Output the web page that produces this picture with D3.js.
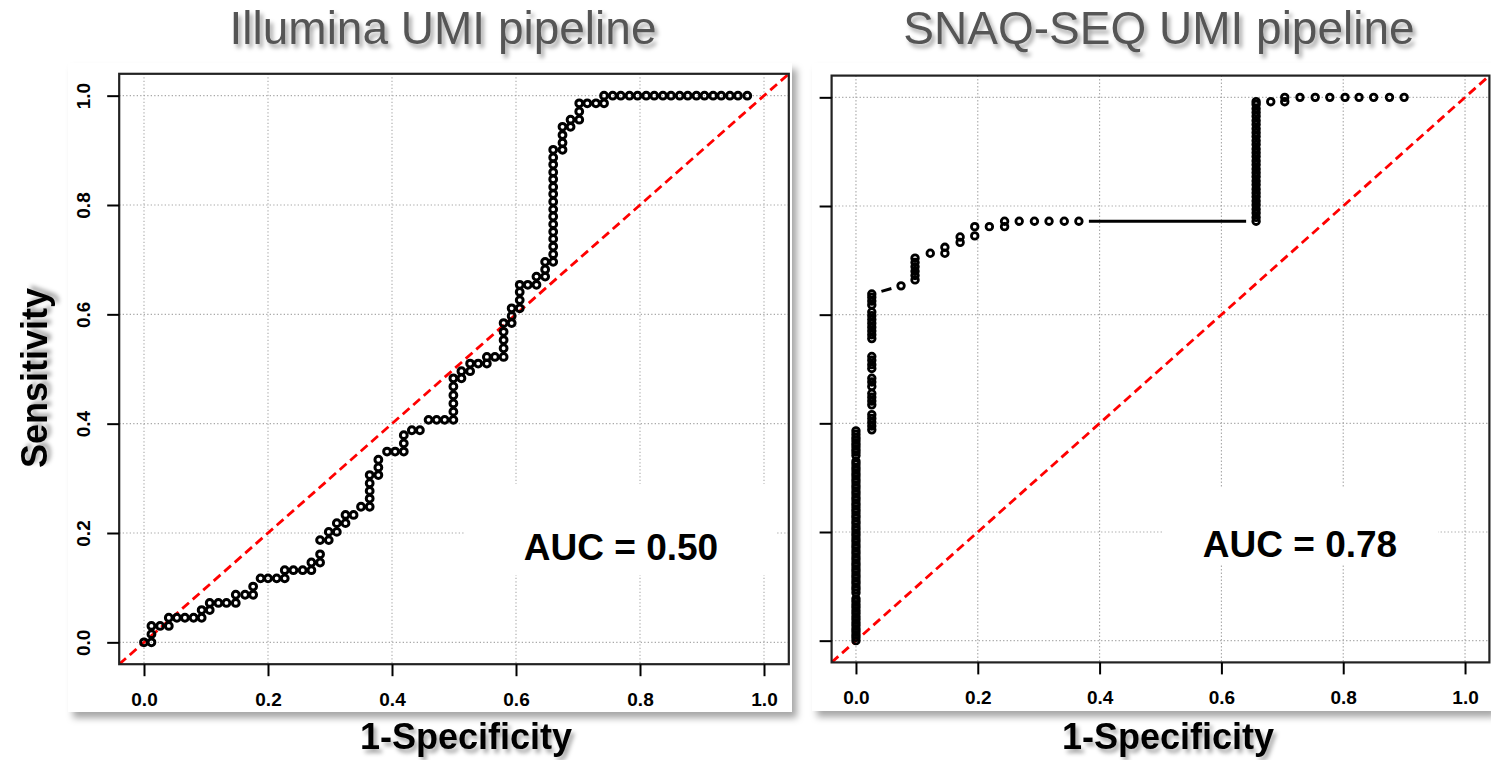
<!doctype html>
<html>
<head>
<meta charset="utf-8">
<script src="https://cdn.jsdelivr.net/npm/d3@7"></script>
<style>
  html, body { margin: 0; padding: 0; background: #fff; }
  svg { display: block; font-family: "Liberation Sans", Arial, sans-serif; }
</style>
</head>
<body>
<svg id="chart" width="1491" height="760"></svg>
<script>
// ---- data ----
var titles = ["Illumina UMI pipeline", "SNAQ-SEQ UMI pipeline"];
var aucLabels = ["AUC = 0.50", "AUC = 0.78"];
var tickValues = [0, 0.2, 0.4, 0.6, 0.8, 1.0];
var tickLabels = ["0.0", "0.2", "0.4", "0.6", "0.8", "1.0"];

// [1-specificity, sensitivity]
var illumina = [
  [0,0],[0.012,0],[0.012,0.015],[0.012,0.030],[0.026,0.030],[0.040,0.030],[0.040,0.045],
  [0.053,0.045],[0.066,0.045],[0.080,0.045],[0.093,0.045],[0.093,0.059],[0.106,0.059],[0.106,0.072],
  [0.120,0.072],[0.133,0.072],[0.148,0.072],[0.148,0.087],[0.163,0.087],[0.176,0.087],[0.176,0.102],
  [0.188,0.117],[0.200,0.117],[0.214,0.117],[0.227,0.117],[0.227,0.132],[0.241,0.132],[0.256,0.132],
  [0.270,0.132],[0.270,0.146],[0.284,0.146],[0.284,0.161],[0.284,0.187],[0.298,0.187],[0.298,0.202],
  [0.311,0.202],[0.311,0.218],[0.325,0.218],[0.325,0.233],[0.338,0.233],[0.350,0.248],[0.364,0.248],
  [0.364,0.263],[0.364,0.277],[0.364,0.291],[0.364,0.306],[0.378,0.306],[0.378,0.320],[0.378,0.334],
  [0.392,0.349],[0.405,0.349],[0.419,0.349],[0.419,0.364],[0.419,0.379],[0.432,0.388],[0.445,0.388],
  [0.459,0.407],[0.472,0.407],[0.485,0.407],[0.499,0.407],[0.499,0.422],[0.499,0.437],[0.499,0.452],
  [0.499,0.468],[0.499,0.483],[0.512,0.483],[0.512,0.496],[0.526,0.496],[0.526,0.510],[0.539,0.510],
  [0.553,0.510],[0.553,0.522],[0.566,0.522],[0.580,0.522],[0.580,0.538],[0.580,0.553],[0.580,0.568],
  [0.580,0.584],[0.593,0.584],[0.593,0.597],[0.593,0.611],[0.606,0.611],[0.606,0.626],[0.606,0.641],
  [0.606,0.654],[0.619,0.654],[0.633,0.654],[0.633,0.669],[0.647,0.669],[0.647,0.682],[0.647,0.696],
  [0.660,0.696],[0.660,0.710],[0.660,0.724],[0.660,0.738],[0.660,0.751],[0.660,0.765],[0.660,0.779],
  [0.660,0.792],[0.660,0.806],[0.660,0.820],[0.660,0.833],[0.660,0.847],[0.660,0.860],[0.660,0.874],
  [0.660,0.887],[0.660,0.901],[0.675,0.901],[0.675,0.914],[0.675,0.928],[0.675,0.943],[0.688,0.943],
  [0.688,0.956],[0.702,0.956],[0.702,0.971],[0.702,0.986],[0.715,0.986],[0.729,0.986],[0.742,0.986],
  [0.742,1],[0.756,1],[0.769,1],[0.783,1],[0.796,1],[0.810,1],[0.823,1],[0.837,1],[0.850,1],
  [0.864,1],[0.877,1],[0.891,1],[0.904,1],[0.918,1],[0.931,1],[0.945,1],[0.958,1],[0.973,1]
];

var snaq = [
  [0,0],[0,0.006],[0,0.011],[0,0.017],[0,0.022],[0,0.028],[0,0.033],[0,0.039],[0,0.044],[0,0.050],
  [0,0.055],[0,0.061],[0,0.066],[0,0.072],[0,0.077],[0,0.088],[0,0.094],[0,0.099],[0,0.105],[0,0.110],
  [0,0.116],[0,0.121],[0,0.127],[0,0.132],[0,0.138],[0,0.143],[0,0.149],[0,0.154],[0,0.160],[0,0.165],
  [0,0.171],[0,0.176],[0,0.182],[0,0.187],[0,0.193],[0,0.198],[0,0.204],[0,0.209],[0,0.215],[0,0.220],
  [0,0.226],[0,0.231],[0,0.237],[0,0.242],[0,0.248],[0,0.253],[0,0.259],[0,0.264],[0,0.270],[0,0.275],
  [0,0.281],[0,0.286],[0,0.292],[0,0.297],[0,0.303],[0,0.308],[0,0.314],[0,0.319],[0,0.325],[0,0.330],
  [0,0.341],[0,0.347],[0,0.352],[0,0.358],[0,0.363],[0,0.369],[0,0.374],[0,0.380],[0,0.386],
  [0.026,0.388],[0.026,0.395],[0.026,0.402],[0.026,0.409],[0.026,0.416],[0.026,0.434],[0.026,0.441],
  [0.026,0.448],[0.026,0.455],[0.026,0.468],[0.026,0.476],[0.026,0.483],[0.026,0.501],[0.026,0.508],
  [0.026,0.516],[0.026,0.523],[0.026,0.556],[0.026,0.563],[0.026,0.570],[0.026,0.577],[0.026,0.584],
  [0.026,0.591],[0.026,0.598],[0.026,0.605],[0.026,0.618],[0.026,0.625],[0.026,0.632],[0.026,0.638],
  [0.074,0.653],[0.097,0.664],[0.097,0.672],[0.097,0.680],[0.097,0.688],[0.097,0.696],[0.097,0.704],
  [0.122,0.713],[0.146,0.713],[0.146,0.724],[0.171,0.733],[0.171,0.743],[0.195,0.745],[0.195,0.762],
  [0.219,0.762],[0.244,0.762],[0.244,0.772],[0.268,0.772],[0.293,0.772],[0.317,0.772],[0.342,0.772],
  [0.366,0.772],[0.657,0.772],[0.657,0.779],[0.657,0.787],[0.657,0.794],[0.657,0.802],[0.657,0.809],
  [0.657,0.817],[0.657,0.824],[0.657,0.831],[0.657,0.839],[0.657,0.846],[0.657,0.854],[0.657,0.861],
  [0.657,0.868],[0.657,0.876],[0.657,0.883],[0.657,0.891],[0.657,0.898],[0.657,0.905],[0.657,0.913],
  [0.657,0.920],[0.657,0.928],[0.657,0.935],[0.657,0.942],[0.657,0.950],[0.657,0.957],[0.657,0.965],
  [0.657,0.972],[0.657,0.979],[0.657,0.987],[0.657,0.992],[0.681,0.992],[0.704,0.992],[0.704,1],
  [0.729,1],[0.754,1],[0.778,1],[0.803,1],[0.826,1],[0.850,1],[0.876,1],[0.900,1]
];

// ---- layout ----
var panels = [
  { data: illumina, title: titles[0], auc: aucLabels[0], titleX: 443,
    box: [119.2, 788.8, 73.8, 664.2], bg: [68, 63, 724, 649],
    legend: [465, 484, 312, 91], aucX: 621, aucY: 560, yLabels: true, xLabX: 466,
    r: 3.4, sw: 3.0 },
  { data: snaq, title: titles[1], auc: aucLabels[1], titleX: 1159,
    box: [831.6, 1489.4, 75.6, 662.4], bg: [812, 63, 679, 648],
    legend: [1164, 488, 274, 77], aucX: 1300, aucY: 557, yLabels: false, xLabX: 1168,
    r: 3.3, sw: 2.8 }
];

var svg = d3.select("#chart");
var defs = svg.append("defs");

var ts = defs.append("filter").attr("id", "tshadow")
  .attr("x", "-10%").attr("y", "-30%").attr("width", "130%").attr("height", "170%");
ts.append("feDropShadow").attr("dx", 3).attr("dy", 4).attr("stdDeviation", 2.2)
  .attr("flood-color", "#000").attr("flood-opacity", 0.35);

var ps = defs.append("filter").attr("id", "pshadow")
  .attr("x", "-5%").attr("y", "-5%").attr("width", "115%").attr("height", "115%");
ps.append("feDropShadow").attr("dx", 5).attr("dy", 6).attr("stdDeviation", 3.5)
  .attr("flood-color", "#000").attr("flood-opacity", 0.35);

panels.forEach(function(p, pi) {
  var x = d3.scaleLinear().domain([-0.04, 1.04]).range([p.box[0], p.box[1]]);
  var y = d3.scaleLinear().domain([-0.04, 1.04]).range([p.box[3], p.box[2]]);

  // white sheet with shadow
  svg.append("rect")
     .attr("x", p.bg[0]).attr("y", p.bg[1])
     .attr("width", p.bg[2]).attr("height", p.bg[3])
     .style("fill", "#fff")
     .attr("filter", "url(#pshadow)");

  var clipId = "clip" + pi;
  defs.append("clipPath").attr("id", clipId).append("rect")
      .attr("x", p.box[0]).attr("y", p.box[2])
      .attr("width", p.box[1] - p.box[0]).attr("height", p.box[3] - p.box[2]);

  var g = svg.append("g");
  var plot = g.append("g").attr("clip-path", "url(#" + clipId + ")");

  // grid
  plot.selectAll(".vgrid").data(tickValues).enter().append("line")
      .attr("x1", d => x(d)).attr("x2", d => x(d))
      .attr("y1", p.box[2]).attr("y2", p.box[3])
      .style("stroke", "#a8a8a8").style("stroke-width", 1.1)
      .style("stroke-dasharray", "1.3,2.2");
  plot.selectAll(".hgrid").data(tickValues).enter().append("line")
      .attr("y1", d => y(d)).attr("y2", d => y(d))
      .attr("x1", p.box[0]).attr("x2", p.box[1])
      .style("stroke", "#a8a8a8").style("stroke-width", 1.1)
      .style("stroke-dasharray", "1.3,2.2");

  // chance line
  plot.append("line")
      .attr("x1", x(-0.04)).attr("y1", y(-0.04))
      .attr("x2", x(1.04)).attr("y2", y(1.04))
      .style("stroke", "#ff0000").style("stroke-width", 2.8)
      .style("stroke-dasharray", "9,5");

  // type="b": segments with a gap around each point
  var pts = p.data.map(d => [x(d[0]), y(d[1])]);
  var gap = 10, segs = [];
  for (var i = 1; i < pts.length; i++) {
    var a = pts[i - 1], b = pts[i];
    var dx = b[0] - a[0], dy = b[1] - a[1], len = Math.sqrt(dx * dx + dy * dy);
    if (len > 2 * gap) {
      segs.push([a[0] + dx / len * gap, a[1] + dy / len * gap,
                 b[0] - dx / len * gap, b[1] - dy / len * gap]);
    }
  }
  plot.selectAll(".seg").data(segs).enter().append("line")
      .attr("x1", d => d[0]).attr("y1", d => d[1])
      .attr("x2", d => d[2]).attr("y2", d => d[3])
      .style("stroke", "#000").style("stroke-width", 3);

  plot.selectAll(".pt").data(p.data).enter().append("circle")
      .attr("cx", d => x(d[0])).attr("cy", d => y(d[1]))
      .attr("r", p.r)
      .style("fill", "none").style("stroke", "#000").style("stroke-width", p.sw);

  // legend
  g.append("rect")
   .attr("x", p.legend[0]).attr("y", p.legend[1])
   .attr("width", p.legend[2]).attr("height", p.legend[3])
   .style("fill", "#fff");
  g.append("text")
   .attr("x", p.aucX).attr("y", p.aucY)
   .attr("text-anchor", "middle")
   .style("font-size", "37px").style("font-weight", "bold")
   .text(p.auc);

  // box
  g.append("rect")
   .attr("x", p.box[0]).attr("y", p.box[2])
   .attr("width", p.box[1] - p.box[0]).attr("height", p.box[3] - p.box[2])
   .style("fill", "none").style("stroke", "#222").style("stroke-width", 2.2);

  // axes
  var xa = g.append("g").attr("transform", "translate(0," + p.box[3] + ")")
    .call(d3.axisBottom(x).tickValues(tickValues).tickSize(12).tickPadding(16)
            .tickFormat((d, i) => tickLabels[i]));
  xa.select(".domain").remove();
  xa.selectAll("line").style("stroke", "#000").style("stroke-width", 2);
  xa.selectAll("text").style("font-size", "19px").style("font-weight", "bold")
    .style("font-family", "Liberation Sans, Arial, sans-serif").style("fill", "#000");

  var ya = g.append("g").attr("transform", "translate(" + p.box[0] + ",0)")
    .call(d3.axisLeft(y).tickValues(tickValues).tickSize(12)
            .tickFormat((d, i) => p.yLabels ? tickLabels[i] : ""));
  ya.select(".domain").remove();
  ya.selectAll("line").style("stroke", "#000").style("stroke-width", 2);
  ya.selectAll("text")
    .attr("x", 0).attr("dy", 0).attr("text-anchor", "middle")
    .attr("transform", "translate(-29,0) rotate(-90)")
    .style("font-size", "19px").style("font-weight", "bold")
    .style("font-family", "Liberation Sans, Arial, sans-serif").style("fill", "#000");

  // titles and axis title
  svg.append("text")
     .attr("x", p.titleX).attr("y", 44)
     .attr("text-anchor", "middle")
     .attr("filter", "url(#tshadow)")
     .style("font-size", "46px").style("fill", "#555")
     .text(p.title);

  svg.append("text")
     .attr("x", p.xLabX).attr("y", 749)
     .attr("text-anchor", "middle")
     .attr("filter", "url(#tshadow)")
     .style("font-size", "36px").style("font-weight", "bold")
     .text("1-Specificity");
});

svg.append("text")
   .attr("transform", "translate(47,378) rotate(-90)")
   .attr("text-anchor", "middle")
   .attr("filter", "url(#tshadow)")
   .style("font-size", "36px").style("font-weight", "bold")
   .text("Sensitivity");
</script>
</body>
</html>
